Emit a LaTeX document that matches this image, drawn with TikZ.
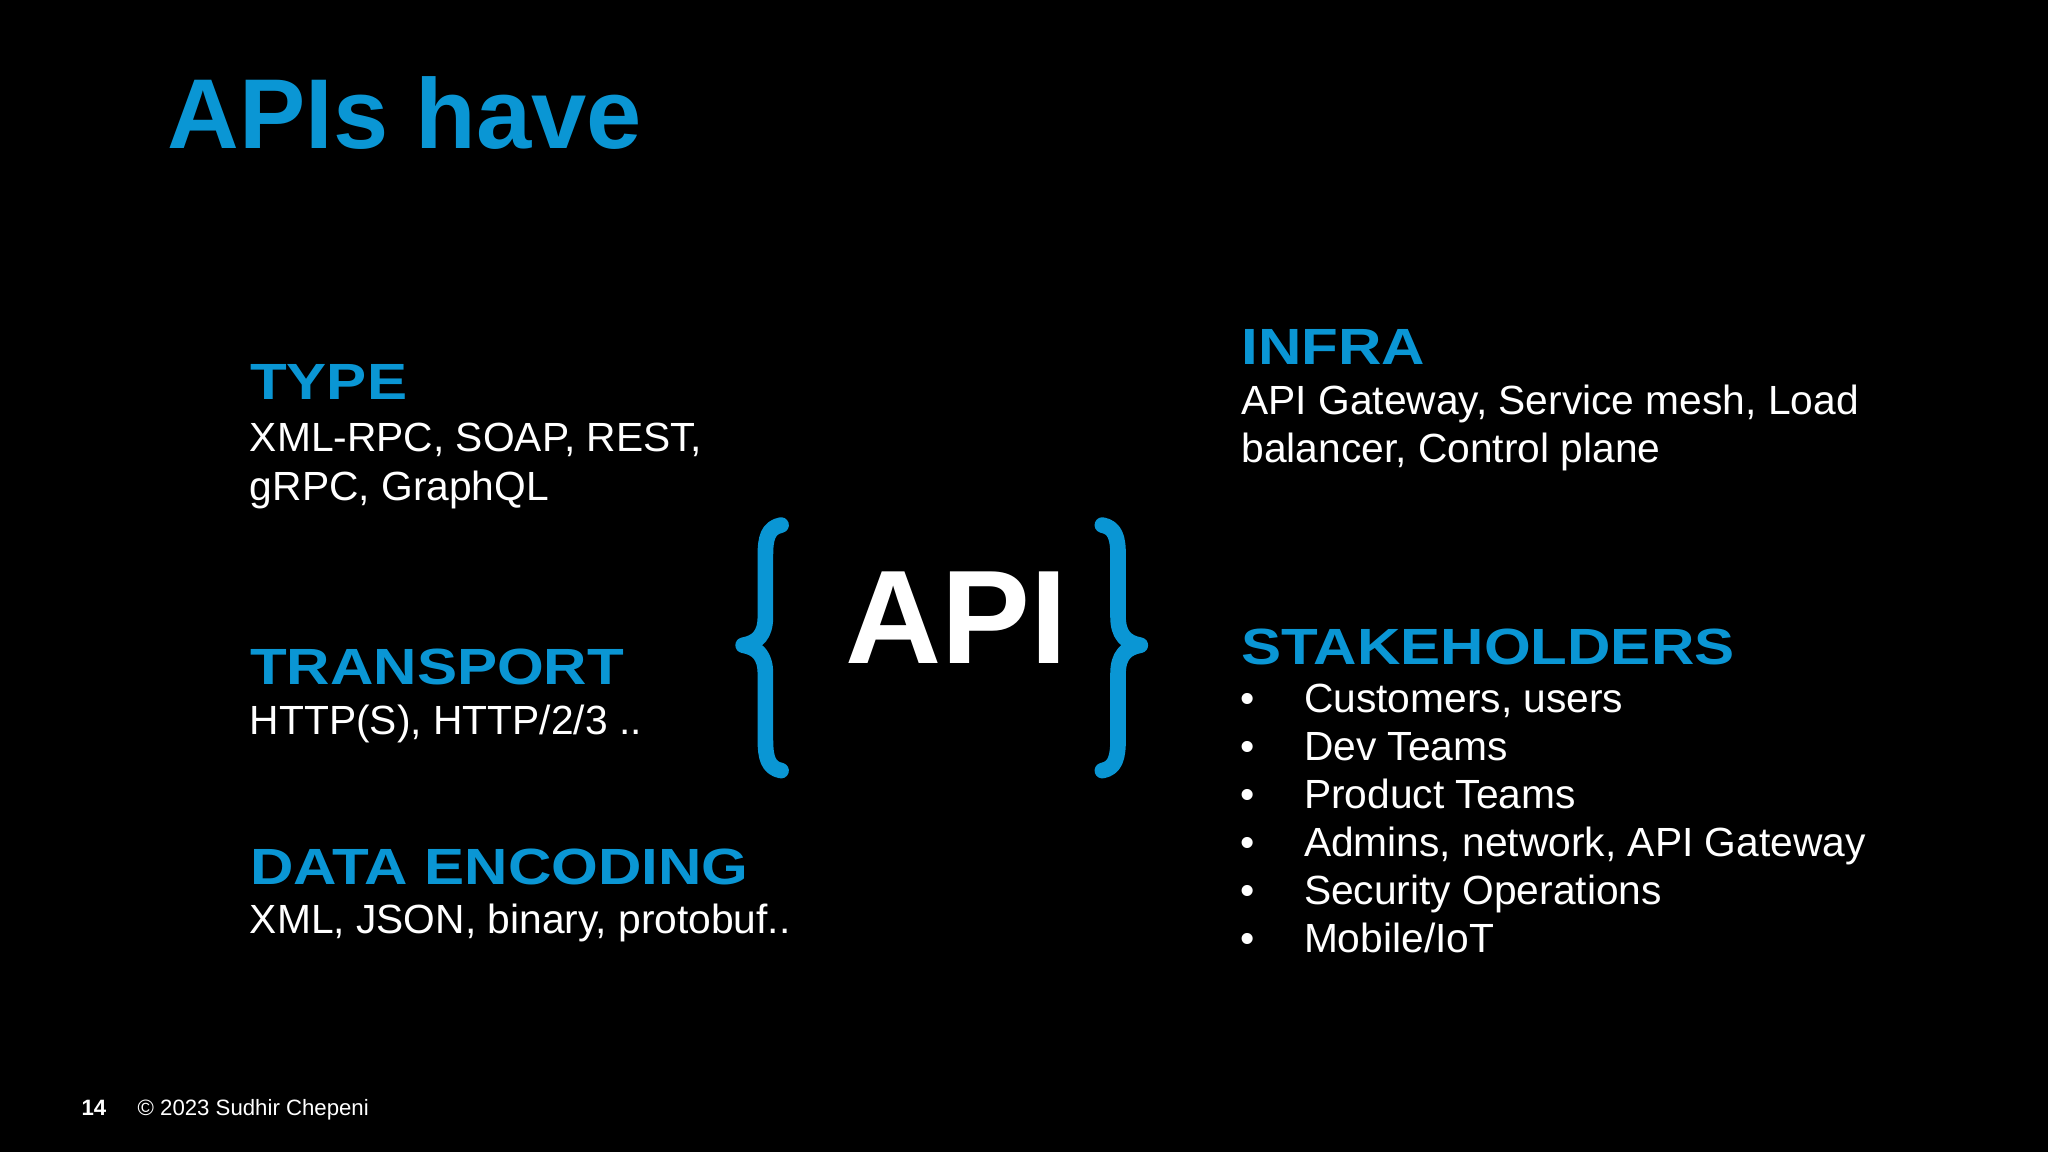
\documentclass[tikz,border=0pt]{standalone}
\usepackage{fontspec}
\setmainfont{Liberation Sans}
\definecolor{apiblue}{HTML}{0A96D4}
\begin{document}
\begin{tikzpicture}[x=0.5pt,y=-0.5pt,
  head/.style={anchor=base west,inner sep=0pt,text=apiblue,font=\fontsize{19.5}{22}\selectfont\bfseries,xscale=1.18},
  body/.style={anchor=base west,inner sep=0pt,text=white,font=\fontsize{15.6}{18.5}\selectfont},
  brace/.style={draw=apiblue,line width=6pt,line cap=round,line join=round}]
\fill[black] (0,0) rectangle (1568,882);
\useasboundingbox (0,0) rectangle (1568,882);
\node[anchor=base west,inner sep=0pt,text=apiblue,font=\fontsize{38}{40}\selectfont\bfseries] (title) at (128,114) {APIs have};
\node[head] (type) at (191,306) {TYPE};
\node[body] (type1) at (191,346) {XML-RPC, SOAP, REST,};
\node[body] (type2) at (191,383) {gRPC, GraphQL};
\node[head] (trans) at (191,524) {TRANSPORT};
\node[body] (trans1) at (191,562) {HTTP(S), HTTP/2/3 ..};
\node[head] (data) at (191,677) {DATA ENCODING};
\node[body] (data1) at (191,715) {XML, JSON, binary, protobuf..};
\node[head] (infra) at (950,279) {INFRA};
\node[body] (infra1) at (950,317) {API Gateway, Service mesh, Load};
\node[body] (infra2) at (950,354) {balancer, Control plane};
\node[head] (stake) at (950,509) {STAKEHOLDERS};
\foreach \t [count=\i] in {{Customers, users},{Dev Teams},{Product Teams},{Admins, network, API Gateway},{Security Operations},{Mobile/IoT}}{
  \node[body] (b\i) at (949,{509+(\i)*36.7}) {\textbullet};
  \node[body] (s\i) at (998,{509+(\i)*36.7}) {\t};
}
\node[anchor=base,inner sep=0pt,text=white,font=\fontsize{51}{55}\selectfont\bfseries] (api) at (732,508) {API};
\draw[brace] (598,402) .. controls (588,404) and (586,412) .. (586,425) -- (586,472)
  .. controls (586,486) and (580,492) .. (569,494)
  .. controls (580,496) and (586,502) .. (586,516) -- (586,566)
  .. controls (586,580) and (588,588) .. (598,590);
\draw[brace] (844,402) .. controls (854,404) and (856,412) .. (856,425) -- (856,472)
  .. controls (856,486) and (862,492) .. (873,494)
  .. controls (862,496) and (856,502) .. (856,516) -- (856,566)
  .. controls (856,580) and (854,588) .. (844,590);
\node[anchor=base west,inner sep=0pt,text=white,font=\fontsize{8.5}{10}\selectfont\bfseries] (pg) at (62,854) {14};
\node[anchor=base west,inner sep=0pt,text=white,font=\fontsize{8.5}{10}\selectfont] (copy) at (105,854) {© 2023 Sudhir Chepeni};
\end{tikzpicture}
\end{document}
